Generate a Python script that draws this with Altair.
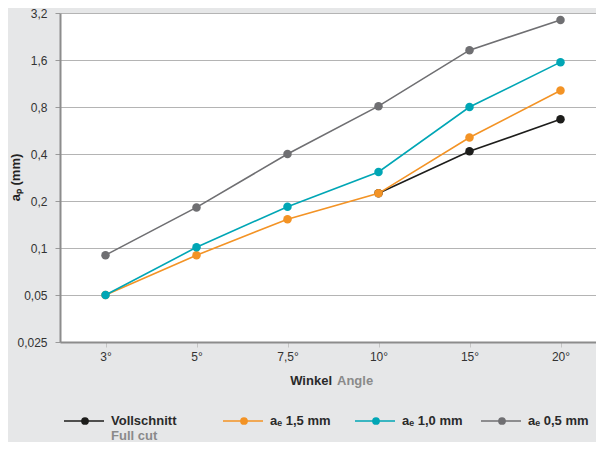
import altair as alt
import pandas as pd

# ---- data ----
angles = ["3°", "5°", "7,5°", "10°", "15°", "20°"]
series_names = ["Vollschnitt", "ae 1,5 mm", "ae 1,0 mm", "ae 0,5 mm"]
voll = [None, None, None, 0.224, 0.416, 0.667]
ae15 = [0.050, 0.090, 0.153, 0.224, 0.51, 1.02]
ae10 = [0.050, 0.101, 0.184, 0.307, 0.80, 1.55]
ae05 = [0.090, 0.182, 0.40, 0.81, 1.85, 2.89]
y_ticks = [0.025, 0.05, 0.1, 0.2, 0.4, 0.8, 1.6, 3.2]
colors = ["#1d1d1b", "#f39325", "#00a6b5", "#6f6f72"]
legend_labels = ["Vollschnitt", "aₑ 1,5 mm", "aₑ 1,0 mm", "aₑ 0,5 mm"]
legend_sub = "Full cut"
x_title = ["Winkel", "Angle"]
y_title = "aₚ (mm)"

FONT = "Liberation Sans"

rows = []
for name, vals in zip(series_names, [voll, ae15, ae10, ae05]):
    for a, v in zip(angles, vals):
        if v is not None:
            rows.append({"series": name, "angle": a, "ap": v})
df = pd.DataFrame(rows)

x_enc = alt.X(
    "angle:N",
    sort=angles,
    scale=alt.Scale(domain=angles, paddingInner=0, paddingOuter=0, range=[0, 546]),
    axis=alt.Axis(
        title=None, labelAngle=0, labelFont=FONT, labelFontSize=12, labelColor="#333333",
        domainColor="#8c8c8c", domainWidth=2, tickColor="#c4c4c4", tickSize=5,
        labelPadding=4, grid=False,
    ),
)
y_enc = alt.Y(
    "ap:Q",
    scale=alt.Scale(type="log", base=2, domain=[0.025, 3.2], nice=False),
    axis=alt.Axis(
        title=None, values=y_ticks, labelExpr="replace(toString(datum.value), '.', ',')",
        labelFont=FONT, labelFontSize=12, labelColor="#333333",
        domainColor="#8c8c8c", domainWidth=2, tickColor="#9a9a9a", tickSize=5,
        labelPadding=8, grid=True, gridColor="#b4b4b4", gridWidth=1,
    ),
)

layers = []
for name, col in zip(series_names, colors):
    base = alt.Chart(df[df["series"] == name]).encode(x=x_enc, y=y_enc)
    layers.append(base.mark_line(color=col, strokeWidth=1.6))
    layers.append(base.mark_circle(color=col, size=72, opacity=1))

one = alt.Data(values=[{"k": 0}])

# y axis title
layers.append(
    alt.Chart(one).mark_text(
        text=y_title, font=FONT, fontSize=13, fontWeight="bold", color="#222222",
        angle=270, align="center", baseline="middle",
    ).encode(x=alt.value(-44.5), y=alt.value(164.5))
)
# x axis title (two colours)
layers.append(
    alt.Chart(one).mark_text(
        text=x_title[0], font=FONT, fontSize=13, fontWeight="bold", color="#2a2a2a",
        align="right", baseline="middle",
    ).encode(x=alt.value(272), y=alt.value(368))
)
layers.append(
    alt.Chart(one).mark_text(
        text=x_title[1], font=FONT, fontSize=13, fontWeight="bold", color="#8a8a8a",
        align="left", baseline="middle",
    ).encode(x=alt.value(277), y=alt.value(368))
)

# custom legend
leg_x = [4, 163, 295, 421]
leg_y = 408
for lx, lab, col in zip(leg_x, legend_labels, colors):
    layers.append(
        alt.Chart(one).mark_rule(color=col, strokeWidth=1.6).encode(
            x=alt.value(lx), x2=alt.value(lx + 40), y=alt.value(leg_y)
        )
    )
    layers.append(
        alt.Chart(one).mark_circle(color=col, size=60, opacity=1).encode(
            x=alt.value(lx + 21), y=alt.value(leg_y)
        )
    )
    layers.append(
        alt.Chart(one).mark_text(
            text=lab, font=FONT, fontSize=13, fontWeight="bold", color="#2a2a2a",
            align="left", baseline="middle",
        ).encode(x=alt.value(lx + 47), y=alt.value(leg_y))
    )
layers.append(
    alt.Chart(one).mark_text(
        text=legend_sub, font=FONT, fontSize=13, fontWeight="bold", color="#8a8a8a",
        align="left", baseline="middle",
    ).encode(x=alt.value(leg_x[0] + 47), y=alt.value(leg_y + 15))
)

chart = (
    alt.layer(*layers)
    .properties(
        width=536, height=329,
        autosize=alt.AutoSizeParams(type="none"),
        padding={"left": 52, "top": 5, "right": 0, "bottom": 100},
        background="#e6e7e8",
    )
    .configure_view(fill="white", stroke=None)
)

chart.save("out.html", embed_options={"renderer": "svg", "actions": False})
